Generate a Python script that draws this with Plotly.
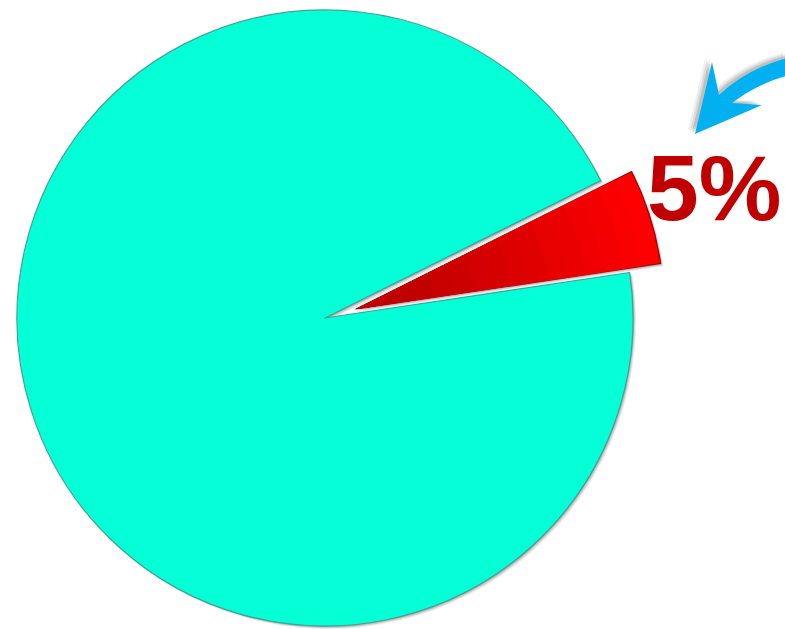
import plotly.graph_objects as go

# Share of the whole that is highlighted, and the remainder
labels = ["Share", "Rest"]
values = [5, 95]

W, H = 785, 629

# Pie geometry in pixels: main disc centre/radius, and offset of the exploded wedge
CX, CY, R = 325, 318, 308
PULL_DX, PULL_DY = 31, -9
ROTATION = 63.5

CYAN = "#05FFD6"
CLEAR = "rgba(0,0,0,0)"


def dom(cx, cy, r):
    """Domain (paper units) of a pie whose centre is at pixel (cx, cy) with radius r."""
    return dict(x=[max(0, (cx - r) / W), min(1, (cx + r) / W)],
                y=[max(0, 1 - (cy + r) / H), min(1, 1 - (cy - r) / H)])


def wedge(cx, cy, r, colors, line_colors=None, line_width=0, opacity=1.0):
    return go.Pie(
        labels=labels, values=values, sort=False,
        direction="clockwise", rotation=ROTATION,
        domain=dom(cx, cy, r),
        marker=dict(colors=colors,
                    line=dict(color=line_colors or [CLEAR, CLEAR], width=line_width)),
        textinfo="none", hoverinfo="skip", showlegend=False, opacity=opacity,
    )


traces = []

# soft drop shadows under the disc and the exploded wedge
for k, a in [(3, 0.08), (2, 0.12), (1, 0.18)]:
    traces.append(wedge(CX + k, CY + k, R, [CLEAR, f"rgba(0,0,0,{a})"]))
    traces.append(wedge(CX + PULL_DX + k, CY + PULL_DY + k, R,
                        [f"rgba(0,0,0,{a})", CLEAR]))

# main cyan disc with the gap where the share was cut out
traces.append(wedge(CX, CY, R, [CLEAR, CYAN], [CLEAR, "#3AA595"], 1.2))

# exploded red wedge, shading smoothly darker toward its tip
px, py = CX + PULL_DX, CY + PULL_DY
steps = 14
for i in range(steps):
    frac = 1 - i * (0.8 / (steps - 1))
    t = i / (steps - 1)
    g = int(round(255 - t * (255 - 190)))
    col = f"rgb({g},0,0)"
    if i == 0:
        traces.append(wedge(px, py, R * frac, [col, CLEAR], ["#A00000", CLEAR], 1.2))
    else:
        traces.append(wedge(px, py, R * frac, [col, CLEAR]))

fig = go.Figure(traces)


def to_paper(pts):
    return [(x / W, 1 - y / H) for x, y in pts]


def path_from(pts_cmds):
    out = []
    for cmd, pts in pts_cmds:
        coords = " ".join(f"{x:.5f},{y:.5f}" for x, y in to_paper(pts))
        out.append(f"{cmd} {coords}")
    return " ".join(out) + " Z"


def arrow_path(dx=0, dy=0):
    s = lambda p: (p[0] + dx, p[1] + dy)
    return path_from([
        ("M", [s((695, 134))]),
        ("L", [s((712, 62))]),
        ("L", [s((719, 95))]),
        ("Q", [s((748, 68)), s((790, 57))]),
        ("L", [s((790, 75))]),
        ("Q", [s((758, 83)), s((732, 103))]),
        ("L", [s((762, 105))]),
    ])


shapes = []
# blurred shadow of the pointer arrow
for d, a in [(-7, 0.06), (-5, 0.09), (-3, 0.12)]:
    shapes.append(dict(type="path", xref="paper", yref="paper", path=arrow_path(d, d * 0.6),
                       fillcolor=f"rgba(0,0,0,{a})", line=dict(width=0)))
shapes.append(dict(type="path", xref="paper", yref="paper", path=arrow_path(),
                   fillcolor="#00B0F0", line=dict(width=0)))

share = values[0]
fig.update_layout(
    width=W, height=H,
    margin=dict(l=0, r=0, t=0, b=0),
    paper_bgcolor="white", plot_bgcolor="white",
    shapes=shapes,
    annotations=[dict(
        text=f"<b>{share}%</b>", x=714 / W, y=1 - 188 / H, xref="paper", yref="paper",
        xanchor="center", yanchor="middle", showarrow=False,
        font=dict(family="Liberation Sans, Arial", size=93, color="#C00000"),
    )],
)

fig.write_html("out.html")
